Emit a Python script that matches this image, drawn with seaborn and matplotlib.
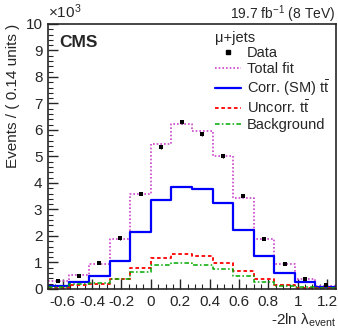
import numpy as np
import pandas as pd
import matplotlib
matplotlib.use("Agg")
import matplotlib.pyplot as plt
import seaborn as sns

# bin edges (width 0.14 units) and contents in units of 10^3 events
bin_edges = [-0.70, -0.56, -0.42, -0.28, -0.14, 0.00, 0.14, 0.28, 0.42, 0.56, 0.70, 0.84, 0.98, 1.12, 1.26]
data_vals = [0.31, 0.49, 0.99, 1.91, 3.60, 5.37, 6.29, 5.84, 5.00, 3.52, 1.88, 0.94, 0.39, 0.14]
total_fit = [0.30, 0.53, 0.93, 1.89, 3.60, 5.46, 6.21, 5.96, 5.00, 3.45, 1.90, 0.93, 0.39, 0.10]
corr_sm = [0.11, 0.25, 0.49, 1.06, 2.15, 3.36, 3.86, 3.79, 3.23, 2.24, 1.26, 0.60, 0.25, 0.08]
uncorr = [0.03, 0.15, 0.19, 0.39, 0.78, 1.18, 1.32, 1.25, 0.99, 0.68, 0.38, 0.16, 0.05, 0.02]
background = [0.06, 0.18, 0.24, 0.39, 0.63, 0.89, 0.98, 0.92, 0.77, 0.49, 0.25, 0.12, 0.06, 0.03]

x_ticks = [-0.6, -0.4, -0.2, 0, 0.2, 0.4, 0.6, 0.8, 1, 1.2]
x_ticklabels = ["-0.6", "-0.4", "-0.2", "0", "0.2", "0.4", "0.6", "0.8", "1", "1.2"]
y_ticks = list(range(0, 11))

sns.set_style("ticks")
plt.rcParams["font.family"] = ["Liberation Sans", "DejaVu Sans"]
plt.rcParams["mathtext.fontset"] = "custom"
plt.rcParams["mathtext.rm"] = "Liberation Sans"
plt.rcParams["mathtext.it"] = "Liberation Sans:italic"
plt.rcParams["mathtext.bf"] = "Liberation Sans:bold"

edges = np.array(bin_edges)
centers = 0.5 * (edges[:-1] + edges[1:])
df = pd.DataFrame({
    "x": centers,
    "data": data_vals,
    "total": total_fit,
    "corr": corr_sm,
    "uncorr": uncorr,
    "bkg": background,
})

fig = plt.figure(figsize=(3.38, 3.28), dpi=100)
ax = fig.add_axes([0.142, 0.119, 0.852, 0.808])

series = [
    ("total", "Total fit", "#cc44cc", (0, (1, 1.2)), 1.2),
    ("corr", "Corr. (SM) t$\\bar{\\mathrm{t}}$", "#0000ff", "-", 1.6),
    ("uncorr", "Uncorr. t$\\bar{\\mathrm{t}}$", "#ff0000", (0, (2, 1.5)), 1.3),
    ("bkg", "Background", "#00aa00", (0, (3, 1.5, 1, 1.5)), 1.1),
]
handles = []
for col, lab, colr, ls, lw in series:
    sns.histplot(x=df["x"].to_numpy(), weights=df[col].to_numpy(), bins=list(bin_edges),
                 element="step", fill=False, color=colr, linestyle=ls, linewidth=lw, ax=ax)
    handles.append(plt.Line2D([], [], color=colr, linestyle=ls, linewidth=lw, label=lab))

err = np.sqrt(np.array(data_vals) * 1000.0) / 1000.0
ax.errorbar(df["x"], df["data"], yerr=err, fmt="none", ecolor="black", elinewidth=0.8)
sns.scatterplot(data=df, x="x", y="data", marker="s", color="black", s=9,
                edgecolor="black", linewidth=0, ax=ax, zorder=5)
data_handle = plt.Line2D([], [], color="black", marker="s", markersize=3.5, linestyle="none", label="Data")

ax.set_xlim(-0.70, 1.26)
ax.set_ylim(0, 10)
ax.set_xticks(x_ticks)
ax.set_xticklabels(x_ticklabels)
ax.set_yticks(y_ticks)
ax.set_xticks(np.arange(-0.70, 1.2601, 0.05), minor=True)
ax.set_yticks(np.arange(0, 10.01, 0.2), minor=True)
ax.tick_params(axis="both", which="major", direction="in", length=7, width=1,
               labelsize=11, pad=4, top=False, right=False)
ax.tick_params(axis="both", which="minor", direction="in", length=3.5, width=0.8,
               top=False, right=False)
for sp in ax.spines.values():
    sp.set_linewidth(1.2)
    sp.set_visible(True)

ax.set_xlabel("-2ln λ$_{\\mathrm{event}}$", fontsize=11, loc="right", labelpad=2)
ax.set_ylabel("Events / ( 0.14 units )", fontsize=11, loc="top", labelpad=4)

fig.text(0.142, 0.935, "×10$^{3}$", fontsize=11, ha="left", va="bottom")
fig.text(0.993, 0.942, "19.7 fb$^{-1}$ (8 TeV)", fontsize=10, ha="right", va="baseline")
ax.text(0.04, 0.96, "CMS", transform=ax.transAxes, fontsize=12.5, fontweight="bold",
        ha="left", va="top")

leg = ax.legend(handles=[data_handle] + handles, title="μ+jets", loc="upper left",
                bbox_to_anchor=(0.56, 0.997), frameon=False, fontsize=10.5,
                title_fontsize=10.5, handlelength=1.8, handletextpad=0.4,
                labelspacing=0.12, borderaxespad=0.0, alignment="left")

fig.savefig("out.png", dpi=100)
